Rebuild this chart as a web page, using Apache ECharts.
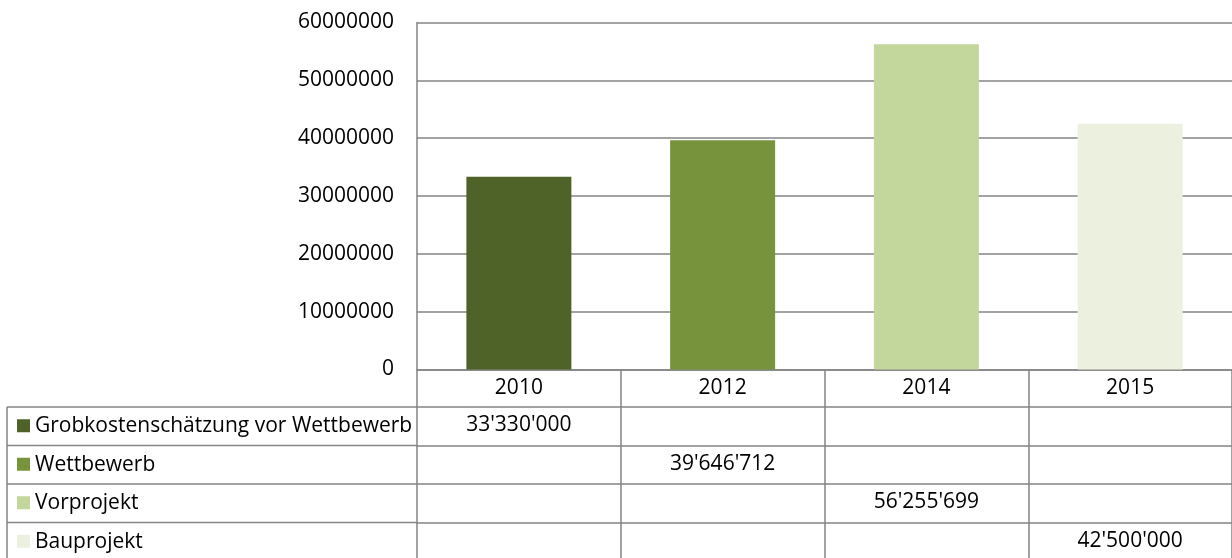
<!DOCTYPE html>
<html>
<head>
<meta charset="utf-8">
<script src="https://cdn.jsdelivr.net/npm/echarts@6/dist/echarts.min.js"></script>
<style>
html,body{margin:0;padding:0;background:#fff;}
#chart{width:1232px;height:558px;}
</style>
</head>
<body>
<div id="chart"></div>
<script>
var categories = ['2010', '2012', '2014', '2015'];
var seriesNames = ['Grobkostenschätzung vor Wettbewerb', 'Wettbewerb', 'Vorprojekt', 'Bauprojekt'];
var grobkosten = [33330000, null, null, null];
var wettbewerb = [null, 39646712, null, null];
var vorprojekt = [null, null, 56255699, null];
var bauprojekt = [null, null, null, 42500000];
var seriesColors = ['#4F6228', '#77933C', '#C3D69B', '#EBF1DE'];
var yTicks = { min: 0, max: 60000000, interval: 10000000 };

var seriesData = [grobkosten, wettbewerb, vorprojekt, bauprojekt];

var FONT = 'Open Sans';
var FS = 21;
var LINE = '#848484';
var LW = 1.5;
var gridLeft = 417, gridTop = 22.5, gridWidth = 818, gridHeight = 347;
var headerH = 37.5, rowH = 38.5;
var tableLeft = 7;

function fmt(v) {
  return String(v).replace(/\B(?=(\d{3})+(?!\d))/g, "'");
}

var xAxes = [{
  type: 'category',
  data: categories,
  gridIndex: 0,
  position: 'bottom',
  axisLine: { show: true, lineStyle: { color: LINE, width: LW } },
  axisTick: { show: true, interval: 0, length: headerH, lineStyle: { color: LINE, width: LW } },
  axisLabel: { margin: 8, color: '#000', fontFamily: FONT, fontSize: FS, interval: 0 },
  splitLine: { show: false }
}];
seriesData.forEach(function (d, k) {
  xAxes.push({
    type: 'category',
    data: categories,
    gridIndex: 0,
    position: 'bottom',
    offset: headerH + rowH * k,
    axisLine: { show: true, lineStyle: { color: LINE, width: LW } },
    axisTick: { show: true, interval: 0, length: rowH + 2, lineStyle: { color: LINE, width: LW } },
    axisLabel: {
      margin: 8, color: '#000', fontFamily: FONT, fontSize: FS, interval: 0,
      formatter: function (val, idx) { return d[idx] == null ? '' : fmt(d[idx]); }
    },
    splitLine: { show: false }
  });
});

var series = seriesData.map(function (d, k) {
  return {
    name: seriesNames[k],
    type: 'bar',
    stack: 'total',
    xAxisIndex: 0,
    barWidth: 105,
    itemStyle: { color: seriesColors[k] },
    data: d
  };
});

var graphics = [];
for (var k = 0; k < seriesNames.length; k++) {
  var yTop = gridTop + gridHeight + headerH + rowH * k;
  graphics.push({
    type: 'line', silent: true,
    shape: { x1: tableLeft, y1: yTop, x2: gridLeft, y2: yTop },
    style: { stroke: LINE, lineWidth: LW }
  });
  graphics.push({
    type: 'rect', silent: true,
    shape: { x: 17, y: yTop + rowH / 2 - 7, width: 13, height: 13 },
    style: { fill: seriesColors[k] }
  });
  graphics.push({
    type: 'text', silent: true,
    x: 35, y: yTop + rowH / 2,
    style: { text: seriesNames[k], fill: '#000', font: FS + 'px "Open Sans"', verticalAlign: 'middle' }
  });
}
graphics.push({
  type: 'line', silent: true,
  shape: { x1: tableLeft, y1: gridTop + gridHeight + headerH, x2: tableLeft, y2: 600 },
  style: { stroke: LINE, lineWidth: LW }
});

var chart = echarts.init(document.getElementById('chart'), null, { renderer: 'canvas' });
chart.setOption({
  animation: false,
  backgroundColor: '#fff',
  grid: { left: gridLeft, top: gridTop, width: gridWidth, height: gridHeight, containLabel: false },
  xAxis: xAxes,
  yAxis: {
    type: 'value',
    min: yTicks.min, max: yTicks.max, interval: yTicks.interval,
    axisLine: { show: true, lineStyle: { color: LINE, width: LW } },
    axisTick: { show: false },
    axisLabel: { margin: 23, color: '#000', fontFamily: FONT, fontSize: FS, formatter: function (v) { return String(v); } },
    splitLine: { show: true, lineStyle: { color: LINE, width: LW } }
  },
  series: series,
  graphic: graphics
});
</script>
</body>
</html>
